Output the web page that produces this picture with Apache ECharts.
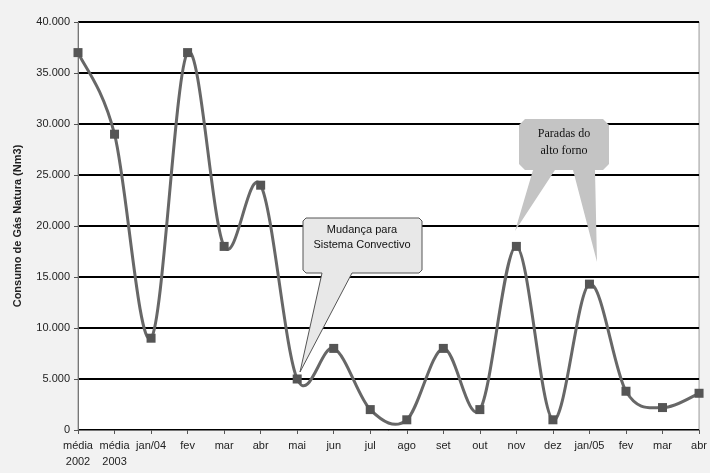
<!DOCTYPE html>
<html>
<head>
<meta charset="utf-8">
<script src="https://cdn.jsdelivr.net/npm/echarts@6/dist/echarts.min.js"></script>
<style>
html,body{margin:0;padding:0;background:#f2f2f2;}
#c{width:710px;height:473px;}
</style>
</head>
<body>
<div id="c"></div>
<script>
var categories = ['média\n2002','média\n2003','jan/04','fev','mar','abr','mai','jun','jul','ago','set','out','nov','dez','jan/05','fev','mar','abr'];
var consumo = [37000,29000,9000,37000,18000,24000,5000,8000,2000,1000,8000,2000,18000,1000,14300,3800,2200,3600];
var yTicks = {min:0, max:40000, interval:5000};
var yName = 'Consumo de Gás Natura (Nm3)';
var note1 = 'Mudança para\nSistema Convectivo';
var note2 = 'Paradas do\nalto forno';

function renderSegment(params, api){
  var i = params.dataIndex, n = consumo.length;
  if (i >= n - 1) return null;
  function pt(j){ j = Math.max(0, Math.min(n-1, j)); return api.coord([j, consumo[j]]); }
  var p0 = pt(i-1), p1 = pt(i), p2 = pt(i+1), p3 = pt(i+2);
  return {
    type:'bezierCurve',
    shape:{
      x1:p1[0], y1:p1[1], x2:p2[0], y2:p2[1],
      cpx1:p1[0]+(p2[0]-p0[0])/6, cpy1:p1[1]+(p2[1]-p0[1])/6,
      cpx2:p2[0]-(p3[0]-p1[0])/6, cpy2:p2[1]-(p3[1]-p1[1])/6
    },
    style:{stroke:'#676767', lineWidth:3, fill:null},
    silent:true
  };
}

var chart = echarts.init(document.getElementById('c'));
chart.setOption({
  backgroundColor:'#f2f2f2',
  animation:false,
  grid:{left:78,right:10,top:22,bottom:43,show:true,backgroundColor:'#ffffff',borderColor:'#999',borderWidth:1},
  xAxis:{
    type:'category',
    data:categories,
    boundaryGap:false,
    axisLine:{lineStyle:{color:'#777',width:1}},
    axisTick:{show:true,length:4,lineStyle:{color:'#555'}},
    axisLabel:{color:'#222',fontSize:11,fontFamily:'Liberation Sans',lineHeight:16,margin:8,interval:0}
  },
  yAxis:{
    type:'value',
    min:yTicks.min,max:yTicks.max,interval:yTicks.interval,
    name:yName,nameLocation:'middle',nameGap:55,
    nameTextStyle:{fontSize:11,fontWeight:'bold',color:'#222',fontFamily:'Liberation Sans'},
    axisLine:{show:true,lineStyle:{color:'#777'}},
    axisTick:{show:true,length:4,lineStyle:{color:'#555'}},
    axisLabel:{color:'#222',fontSize:11,fontFamily:'Liberation Sans',margin:8,
      formatter:function(v){return v===0?'0':(v/1000).toFixed(3);}},
    splitLine:{show:true,lineStyle:{color:'#000',width:2}}
  },
  series:[{
    type:'custom',
    renderItem:renderSegment,
    data:consumo.map(function(v,i){return [i,v];}),
    encode:{x:0,y:1},
    z:2
  },{
    type:'line',
    data:consumo,
    symbol:'rect',
    symbolSize:9,
    itemStyle:{color:'#555555'},
    lineStyle:{opacity:0},
    z:3
  }],
  graphic:[
    {type:'polygon',z:100,shape:{points:[[306,218],[419,218],[422,221],[422,270],[419,273],[352,273],[300,372],[322,273],[306,273],[303,270],[303,221]]},
     style:{fill:'#e8e8e8',stroke:'#555',lineWidth:1}},
    {type:'text',z:101,style:{x:362,y:222,text:note1,textAlign:'center',fontSize:11,lineHeight:15,fill:'#111',fontFamily:'Liberation Sans'}},
    {type:'polygon',z:100,shape:{points:[[525,119],[603,119],[609,125],[609,164],[603,170],[595,170],[597,262],[573,170],[555,170],[515,231],[533,170],[525,170],[519,164],[519,125]]},
     style:{fill:'#c4c4c4',stroke:null}},
    {type:'text',z:101,style:{x:564,y:125,text:note2,textAlign:'center',fontSize:12,lineHeight:17,fill:'#111',fontFamily:'Liberation Serif'}}
  ]
});
</script>
</body>
</html>
